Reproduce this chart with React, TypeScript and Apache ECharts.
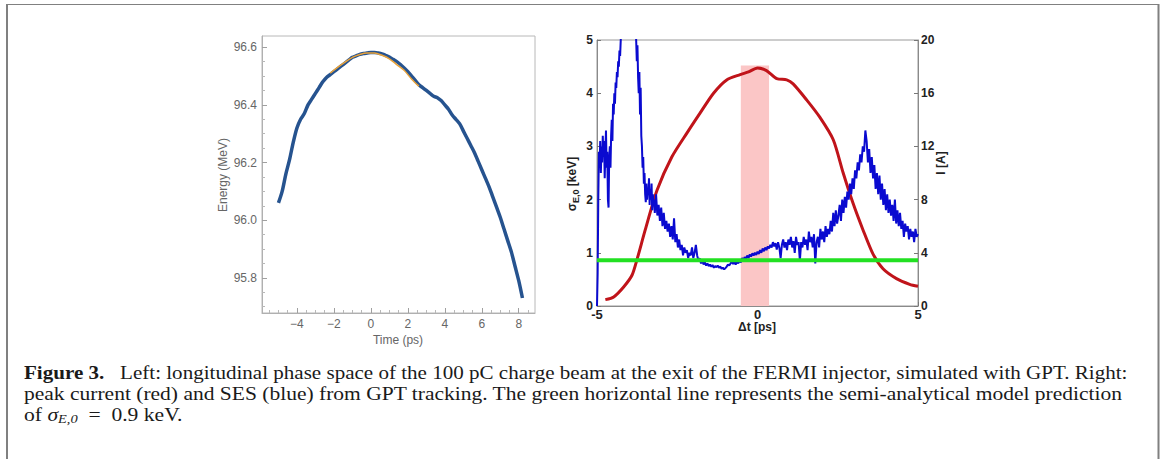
import React, { useEffect, useRef } from 'react';
import * as echarts from 'echarts';

// ---------- Left panel: longitudinal phase space ----------
const energyTime = [-5.0, -4.8, -4.6, -4.4, -4.2, -4.0, -3.8, -3.6, -3.4, -3.2, -3.0, -2.8, -2.6, -2.4, -2.2, -2.0, -1.8, -1.6, -1.4, -1.2, -1.0, -0.8, -0.6, -0.4, -0.2, 0.0, 0.2, 0.4, 0.6, 0.8, 1.0, 1.2, 1.4, 1.6, 1.8, 2.0, 2.2, 2.4, 2.6, 2.8, 3.0, 3.2, 3.4, 3.6, 3.8, 4.0, 4.2, 4.4, 4.6, 4.8, 5.0, 5.2, 5.4, 5.6, 5.8, 6.0, 6.2, 6.4, 6.6, 6.8, 7.0, 7.2, 7.4, 7.6, 7.8, 8.0, 8.2];
const energyMeV = [96.06, 96.10, 96.16, 96.21, 96.27, 96.32, 96.35, 96.37, 96.40, 96.42, 96.44, 96.46, 96.48, 96.495, 96.505, 96.515, 96.525, 96.535, 96.545, 96.555, 96.565, 96.57, 96.575, 96.578, 96.58, 96.582, 96.582, 96.58, 96.577, 96.572, 96.566, 96.558, 96.55, 96.54, 96.528, 96.515, 96.50, 96.485, 96.47, 96.46, 96.45, 96.44, 96.43, 96.425, 96.415, 96.40, 96.385, 96.365, 96.35, 96.335, 96.31, 96.285, 96.26, 96.235, 96.205, 96.175, 96.145, 96.115, 96.08, 96.045, 96.01, 95.97, 95.93, 95.89, 95.84, 95.79, 95.73];
const orangeTime = [-2.2, -1.8, -1.4, -1.0, -0.6, -0.2, 0.2, 0.6, 1.0, 1.4, 1.8, 2.2, 2.6];
const orangeMeV = [96.51, 96.53, 96.548, 96.565, 96.575, 96.58, 96.58, 96.572, 96.56, 96.54, 96.52, 96.49, 96.465];

const leftXLabels = [-4, -2, 0, 2, 4, 6, 8];
const leftXMinor = [-5.5, -5, -4.5, -3.5, -3, -2.5, -1.5, -1, -0.5, 0.5, 1, 1.5, 2.5, 3, 3.5, 4.5, 5, 5.5, 6.5, 7, 7.5, 8.5];
const leftYLabels = [95.8, 96.0, 96.2, 96.4, 96.6];
const leftYMinor = [95.7, 95.75, 95.85, 95.9, 95.95, 96.05, 96.1, 96.15, 96.25, 96.3, 96.35, 96.45, 96.5, 96.55];

// ---------- Right panel: SES and peak current ----------
const sesTime = [-5.0, -4.98, -4.96, -4.94, -4.92, -4.90, -4.88, -4.86, -4.84, -4.82, -4.80, -4.78, -4.76, -4.74, -4.72, -4.70, -4.68, -4.66, -4.64, -4.62, -4.60, -4.58, -4.56, -4.54, -4.52, -4.50, -4.48, -4.46, -4.44, -4.42, -4.40, -4.38, -4.36, -4.34, -4.32, -4.30, -4.28, -4.26, -4.24, -4.22, -4.18, -4.14, -4.10, -4.06, -3.95, -3.85, -3.80, -3.78, -3.76, -3.74, -3.72, -3.70, -3.68, -3.66, -3.64, -3.62, -3.60, -3.58, -3.56, -3.54, -3.52, -3.50, -3.48, -3.46, -3.44, -3.42, -3.40, -3.38, -3.36, -3.34, -3.32, -3.30, -3.28, -3.26, -3.24, -3.22, -3.20, -3.16, -3.12, -3.08, -3.04, -3.00, -2.96, -2.92, -2.88, -2.84, -2.80, -2.76, -2.72, -2.68, -2.64, -2.60, -2.56, -2.52, -2.48, -2.44, -2.40, -2.36, -2.32, -2.28, -2.24, -2.20, -2.16, -2.12, -2.08, -2.04, -2.00, -1.96, -1.92, -1.88, -1.84, -1.80, -1.76, -1.72, -1.68, -1.64, -1.60, -1.56, -1.52, -1.48, -1.44, -1.40, -1.36, -1.32, -1.28, -1.24, -1.20, -1.16, -1.12, -1.08, -1.04, -1.00, -0.96, -0.92, -0.88, -0.84, -0.80, -0.76, -0.72, -0.68, -0.64, -0.60, -0.56, -0.52, -0.48, -0.44, -0.40, -0.36, -0.32, -0.28, -0.24, -0.20, -0.16, -0.12, -0.08, -0.04, 0.00, 0.04, 0.08, 0.12, 0.16, 0.20, 0.24, 0.28, 0.32, 0.36, 0.40, 0.44, 0.48, 0.52, 0.56, 0.60, 0.64, 0.68, 0.72, 0.76, 0.80, 0.84, 0.88, 0.92, 0.96, 1.00, 1.04, 1.08, 1.12, 1.16, 1.20, 1.24, 1.28, 1.32, 1.36, 1.40, 1.44, 1.48, 1.52, 1.56, 1.60, 1.64, 1.68, 1.72, 1.76, 1.80, 1.84, 1.88, 1.92, 1.96, 2.00, 2.04, 2.08, 2.12, 2.16, 2.20, 2.24, 2.28, 2.32, 2.36, 2.40, 2.44, 2.48, 2.52, 2.56, 2.60, 2.64, 2.68, 2.72, 2.76, 2.80, 2.84, 2.88, 2.92, 2.96, 3.00, 3.04, 3.08, 3.12, 3.16, 3.20, 3.24, 3.28, 3.32, 3.36, 3.40, 3.44, 3.48, 3.52, 3.56, 3.60, 3.64, 3.68, 3.72, 3.76, 3.80, 3.84, 3.88, 3.92, 3.96, 4.00, 4.04, 4.08, 4.12, 4.16, 4.20, 4.24, 4.28, 4.32, 4.36, 4.40, 4.44, 4.48, 4.52, 4.56, 4.60, 4.64, 4.68, 4.72, 4.76, 4.80, 4.84, 4.88, 4.92, 4.96, 5.00];
const sesKeV = [0.0, 0.6, 2.0, 2.9, 2.6, 3.1, 2.5, 3.0, 2.7, 3.2, 2.8, 3.1, 2.4, 2.9, 3.3, 2.6, 2.9, 2.0, 1.85, 2.8, 3.0, 2.6, 3.2, 3.5, 3.1, 3.8, 3.6, 4.0, 3.8, 4.2, 4.1, 4.4, 4.3, 4.6, 4.5, 4.8, 4.7, 5.0, 5.3, 5.6, 5.9, 6.2, 6.0, 5.8, 6.5, 6.2, 5.6, 5.0, 4.6, 4.9, 4.3, 4.0, 4.4, 3.6, 4.1, 3.2, 3.0, 2.6, 2.8, 2.3, 2.5, 2.1, 1.95, 2.3, 2.0, 2.2, 2.1, 2.4, 1.9, 2.2, 2.0, 2.3, 1.8, 2.1, 1.9, 2.0, 1.75, 2.1, 1.7, 1.9, 1.6, 1.85, 1.5, 1.75, 1.45, 1.6, 1.4, 1.55, 1.3, 1.5, 1.25, 1.65, 1.2, 1.35, 1.1, 1.25, 1.05, 1.15, 0.95, 1.1, 1.0, 1.05, 0.9, 1.0, 0.95, 1.1, 0.9, 1.0, 1.15, 0.95, 0.85, 0.9, 0.8, 0.85, 0.78, 0.82, 0.76, 0.8, 0.75, 0.78, 0.74, 0.77, 0.72, 0.75, 0.73, 0.76, 0.72, 0.74, 0.7, 0.72, 0.69, 0.71, 0.74, 0.78, 0.76, 0.8, 0.83, 0.79, 0.82, 0.78, 0.84, 0.8, 0.85, 0.82, 0.9, 0.86, 0.92, 0.88, 0.95, 0.9, 0.97, 0.93, 0.99, 0.95, 1.0, 0.96, 1.02, 0.98, 1.05, 1.0, 1.08, 1.03, 1.1, 1.05, 1.12, 1.08, 1.15, 1.1, 1.2, 1.12, 1.18, 1.06, 1.2, 1.1, 0.9, 1.15, 1.25, 1.1, 1.2, 1.05, 1.25, 1.15, 1.3, 1.1, 1.22, 1.0, 1.3, 1.15, 1.2, 0.85, 1.2, 1.1, 1.3, 1.15, 1.25, 1.05, 1.4, 1.2, 1.3, 1.1, 1.35, 0.8, 1.2, 1.3, 1.1, 1.45, 1.25, 1.4, 1.2, 1.5, 1.3, 1.45, 1.35, 1.6, 1.4, 1.75, 1.5, 1.8, 1.55, 1.7, 1.9, 1.6, 2.0, 1.75, 2.05, 1.85, 2.15, 2.0, 2.3, 2.1, 2.4, 2.2, 2.55, 2.4, 2.7, 2.55, 2.85, 2.7, 3.0, 2.9, 3.3, 3.1, 2.7, 2.95, 2.5, 2.8, 2.4, 2.65, 2.2, 2.5, 2.1, 2.45, 2.0, 2.3, 1.9, 2.2, 1.8, 2.1, 1.75, 2.0, 1.7, 1.9, 1.6, 2.0, 1.55, 1.8, 1.5, 1.75, 1.45, 1.6, 1.3, 1.55, 1.4, 1.5, 1.25, 1.45, 1.3, 1.4, 1.2, 1.45, 1.3, 1.35];
const currentTime = [-4.74, -4.48, -4.17, -3.91, -3.76, -3.50, -3.13, -2.67, -2.20, -1.79, -1.37, -0.96, -0.54, -0.28, 0.0, 0.28, 0.60, 0.91, 1.11, 1.53, 1.94, 2.36, 2.67, 2.98, 3.29, 3.60, 3.91, 4.33, 4.74, 5.0];
const currentA = [0.48, 0.68, 1.43, 2.31, 3.44, 5.7, 8.7, 11.2, 13.0, 14.5, 16.0, 17.0, 17.4, 17.6, 17.9, 17.7, 17.1, 17.0, 16.7, 15.5, 14.2, 12.5, 10.0, 7.7, 5.7, 3.9, 2.8, 2.06, 1.63, 1.48];
const modelKeV = 0.86;
const bandStart = -0.52;
const bandEnd = 0.36;
const bandTop = 4.52;

const pair = (xs: number[], ys: number[]) => xs.map((x, i) => [x, ys[i]]);
const minus = (v: number) => (v < 0 ? '\u2212' + Math.abs(v) : String(v));

const SANS = '"Liberation Sans", Arial, sans-serif';
const SERIF = '"Liberation Serif", "Times New Roman", serif';

export default function App() {
  const ref = useRef<HTMLDivElement>(null);
  useEffect(() => {
    if (!ref.current) return;
    const chart = echarts.init(ref.current, null, { renderer: 'svg' });
    const grayAxis = { show: true, onZero: false, lineStyle: { color: '#b0b0b0', width: 1 } };
    const rAxisLine = { show: true, onZero: false, lineStyle: { color: '#8a8a8a', width: 1 } };
    const rLabel = { color: '#222', fontSize: 12, fontWeight: 'bold' as const, fontFamily: SANS };
    const CAP = 18;
    const option: any = {
      animation: false,
      grid: [
        { left: 262, top: 36, width: 273, height: 277, show: true, borderColor: '#b8b8b8', borderWidth: 1 },
        { left: 597, top: 40, width: 321, height: 266, show: true, borderColor: '#9a9a9a', borderWidth: 1 },
      ],
      xAxis: [
        {
          gridIndex: 0, type: 'value', position: 'bottom', min: -5.89, max: 8.88,
          axisLine: grayAxis,
          axisTick: { show: true, inside: true, length: 5, customValues: leftXLabels, lineStyle: { color: '#a0a0a0' } },
          axisLabel: { customValues: leftXLabels, formatter: minus, color: '#666', fontSize: 12, fontFamily: SANS, margin: 5 },
          splitLine: { show: false },
        },
        {
          gridIndex: 0, type: 'value', position: 'bottom', min: -5.89, max: 8.88,
          axisLine: { show: false, onZero: false },
          axisTick: { show: true, inside: true, length: 3, customValues: leftXMinor, lineStyle: { color: '#b8b8b8' } },
          axisLabel: { show: false },
          splitLine: { show: false },
        },
        {
          gridIndex: 1, type: 'value', position: 'bottom', min: -5, max: 5, interval: 5,
          axisLine: rAxisLine,
          axisTick: { show: true, inside: true, length: 4, lineStyle: { color: '#777' } },
          axisLabel: { ...rLabel, fontSize: 13, margin: 2, formatter: (v: number) => String(v) },
          splitLine: { show: false },
        },
      ],
      yAxis: [
        {
          gridIndex: 0, type: 'value', position: 'left', min: 95.678, max: 96.639,
          axisLine: grayAxis,
          axisTick: { show: true, inside: true, length: 5, customValues: leftYLabels, lineStyle: { color: '#a0a0a0' } },
          axisLabel: { customValues: leftYLabels, formatter: (v: number) => v.toFixed(1), color: '#666', fontSize: 12, fontFamily: SANS, margin: 5 },
          splitLine: { show: false },
        },
        {
          gridIndex: 0, type: 'value', position: 'left', min: 95.678, max: 96.639,
          axisLine: { show: false, onZero: false },
          axisTick: { show: true, inside: true, length: 3, customValues: leftYMinor, lineStyle: { color: '#b8b8b8' } },
          axisLabel: { show: false },
          splitLine: { show: false },
        },
        {
          gridIndex: 1, type: 'value', min: 0, max: 5, interval: 1, position: 'left',
          axisLine: rAxisLine,
          axisTick: { show: true, inside: true, length: 4, lineStyle: { color: '#777' } },
          axisLabel: { ...rLabel, margin: 4 },
          splitLine: { show: false },
        },
        {
          gridIndex: 1, type: 'value', min: 0, max: 20, interval: 4, position: 'right',
          axisLine: rAxisLine,
          axisTick: { show: true, inside: true, length: 4, lineStyle: { color: '#777' } },
          axisLabel: { ...rLabel, margin: 3 },
          splitLine: { show: false },
        },
      ],
      series: [
        {
          type: 'line', xAxisIndex: 0, yAxisIndex: 0, data: pair(energyTime, energyMeV),
          showSymbol: false, smooth: 0.3, lineStyle: { color: '#26538f', width: 3.5 }, z: 3,
        },
        {
          type: 'line', xAxisIndex: 0, yAxisIndex: 0, data: pair(orangeTime, orangeMeV),
          showSymbol: false, smooth: 0.3, lineStyle: { color: '#e8a23a', width: 1.5 }, z: 4,
        },
        {
          type: 'line', xAxisIndex: 2, yAxisIndex: 3, data: pair(currentTime, currentA),
          showSymbol: false, smooth: 0.25, lineStyle: { color: '#c0141a', width: 3 }, z: 3,
        },
        {
          type: 'line', xAxisIndex: 2, yAxisIndex: 2, data: pair(sesTime, sesKeV),
          showSymbol: false, lineStyle: { color: '#0a0ad0', width: 2 }, z: 4,
        },
        {
          type: 'line', xAxisIndex: 2, yAxisIndex: 2, data: [[-5, modelKeV], [5, modelKeV]],
          showSymbol: false, lineStyle: { color: '#22e022', width: 4 }, z: 5,
          markArea: {
            silent: true, z: 1,
            itemStyle: { color: '#fbc6c6', opacity: 1 },
            data: [[{ coord: [bandStart, 0] }, { coord: [bandEnd, bandTop] }]],
          },
        },
      ],
      graphic: [
        { type: 'line', shape: { x1: 7, y1: 4.5, x2: 1159, y2: 4.5 }, style: { stroke: '#808080', lineWidth: 1 } },
        { type: 'line', shape: { x1: 7, y1: 4, x2: 7, y2: 459 }, style: { stroke: '#808080', lineWidth: 2 } },
        { type: 'line', shape: { x1: 1158.5, y1: 4, x2: 1158.5, y2: 459 }, style: { stroke: '#808080', lineWidth: 2 } },
        {
          type: 'text', x: 223, y: 175, rotation: Math.PI / 2,
          style: { text: 'Energy (MeV)', fill: '#666', font: `12px ${SANS}`, align: 'center', verticalAlign: 'middle' },
        },
        {
          type: 'text', x: 398, y: 340,
          style: { text: 'Time (ps)', fill: '#666', font: `12px ${SANS}`, align: 'center', verticalAlign: 'middle' },
        },
        {
          type: 'text', x: 572, y: 184, rotation: Math.PI / 2,
          style: {
            text: '{s|σ}{sub|E,0}{s| [keV]}', align: 'center', verticalAlign: 'middle',
            rich: {
              s: { fill: '#222', fontSize: 12, fontWeight: 'bold', fontFamily: SANS, lineHeight: 16, verticalAlign: 'middle' },
              sub: { fill: '#222', fontSize: 9, fontWeight: 'bold', fontFamily: SANS, lineHeight: 9, verticalAlign: 'bottom' },
            },
          },
        },
        {
          type: 'text', x: 941, y: 163, rotation: Math.PI / 2,
          style: { text: 'I [A]', fill: '#222', font: `bold 12px ${SANS}`, align: 'center', verticalAlign: 'middle' },
        },
        {
          type: 'text', x: 757, y: 327,
          style: { text: 'Δt [ps]', fill: '#222', font: `bold 12px ${SANS}`, align: 'center', verticalAlign: 'middle' },
        },
        {
          type: 'text', x: 24, y: 373, scaleX: 1.17,
          style: {
            text: '{b|Figure 3.}{n|   Left: longitudinal phase space of the 100 pC charge beam at the exit of the FERMI injector, simulated with GPT. Right:}',
            verticalAlign: 'middle',
            rich: {
              b: { fill: '#1a1a1a', fontSize: CAP, fontWeight: 'bold', fontFamily: SERIF },
              n: { fill: '#1a1a1a', fontSize: CAP, fontFamily: SERIF },
            },
          },
        },
        {
          type: 'text', x: 24, y: 394, scaleX: 1.195,
          style: {
            text: 'peak current (red) and SES (blue) from GPT tracking. The green horizontal line represents the semi-analytical model prediction',
            fill: '#1a1a1a', font: `${CAP}px ${SERIF}`, verticalAlign: 'middle',
          },
        },
        {
          type: 'text', x: 24, y: 415, scaleX: 1.2,
          style: {
            text: '{n|of }{i|σ}{sub|E,0}{n|  =  0.9 keV.}',
            verticalAlign: 'middle',
            rich: {
              n: { fill: '#1a1a1a', fontSize: CAP, fontFamily: SERIF, lineHeight: 20, verticalAlign: 'middle' },
              i: { fill: '#1a1a1a', fontSize: CAP, fontStyle: 'italic', fontFamily: SERIF, lineHeight: 20, verticalAlign: 'middle' },
              sub: { fill: '#1a1a1a', fontSize: 12, fontStyle: 'italic', fontFamily: SERIF, lineHeight: 12, verticalAlign: 'bottom' },
            },
          },
        },
      ],
    };
    chart.setOption(option);
    return () => chart.dispose();
  }, []);
  return <div ref={ref} style={{ position: 'absolute', left: 0, top: 0, width: 1163, height: 459 }} />;
}
